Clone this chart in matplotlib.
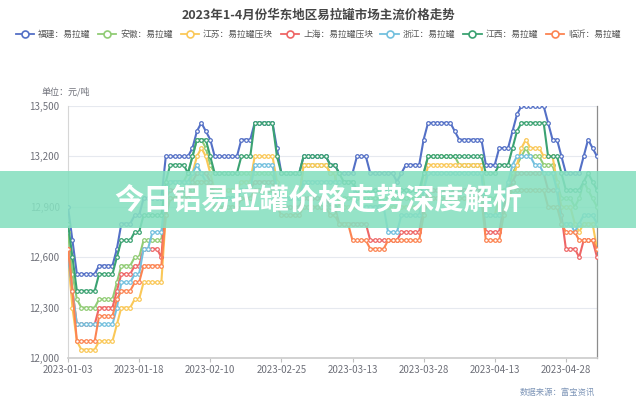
import matplotlib
matplotlib.use("Agg")
import matplotlib.pyplot as plt
from matplotlib.patches import Rectangle

plt.rcParams['font.family'] = ['Noto Sans CJK SC', 'DejaVu Sans']

title = "2023年1-4月份华东地区易拉罐市场主流价格走势"
series_names = ["福建：易拉罐", "安徽：易拉罐", "江苏：易拉罐压块", "上海：易拉罐压块",
                "浙江：易拉罐", "江西：易拉罐", "临沂：易拉罐"]
colors = ["#5470c6", "#91cc75", "#fac858", "#ee6666", "#73c0de", "#3ba272", "#fc8452"]
tick_labels = ["2023-01-03", "2023-01-18", "2023-02-10", "2023-02-25",
               "2023-03-13", "2023-03-28", "2023-04-13", "2023-04-28"]
tick_step = 16
y_ticks = [12000, 12300, 12600, 12900, 13200, 13500]

fujian = ([12900, 12700] + [12500]*5 + [12550]*4 + [12650] + [12800]*3 + [12850]*2 + [12950]*5
          + [13200]*6 + [13250, 13350, 13400, 13350, 13300] + [13200]*6 + [13300]*3 + [13400]*5
          + [13250] + [13100]*5 + [13200]*6 + [13150]*2 + [13100]*4 + [13200]*3 + [13100]*6
          + [13050, 13100] + [13150]*4 + [13300] + [13400]*6 + [13350] + [13300]*6 + [13150]*3
          + [13250]*3 + [13350, 13450] + [13500]*6 + [13400] + [13300]*2 + [13200] + [13100]*4
          + [13200, 13300, 13250, 13200])
anhui = ([12750, 12500, 12350] + [12300]*4 + [12350]*4 + [12450] + [12550]*3 + [12600]*2 + [12700]*5
         + [12950] + [13050]*4 + [13100, 13200] + [13300]*2 + [13250, 13150] + [13100]*14
         + [13000] + [12950]*5 + [13150]*6 + [13100]*2 + [12950]*19 + [13100] + [13200]*7
         + [13150]*6 + [12950]*3 + [13000]*3 + [13100, 13150, 13200, 13250] + [13200]*3
         + [13150]*3 + [13050] + [12950]*3 + [12900, 12950, 13050, 13000, 12950, 12900])
jiangsu = ([12600, 12300, 12100] + [12050]*4 + [12100]*4 + [12200] + [12300]*3 + [12350]*2 + [12450]*5
           + [12850] + [12950]*4 + [13000, 13100, 13200, 13250, 13200, 13100] + [13000]*6
           + [13050]*3 + [13200]*5 + [13050] + [12950]*5 + [13150]*6 + [13100]*2 + [12900]*19
           + [13000] + [13150]*13 + [12850]*3 + [12950]*3 + [13050, 13150, 13250, 13300]
           + [13250]*3 + [13200]*3 + [13050] + [12900]*3 + [12800, 12750] + [12800]*3 + [12650])
shanghai = ([12650, 12400] + [12200]*5 + [12300]*4 + [12400] + [12500]*3 + [12550]*2 + [12650]*4
            + [12600, 12950] + [13000]*4 + [13000, 13050] + [13100]*3 + [13050] + [12950]*6
            + [13000]*3 + [13050]*5 + [12950] + [12900]*5 + [12950]*6 + [12900]*2 + [12800]*7
            + [12700]*7 + [12750]*5 + [12900] + [13000]*13 + [12750]*4 + [12900, 13000, 13050]
            + [13100]*7 + [13000]*3 + [12850] + [12650]*3 + [12600] + [12700]*3 + [12600])
zhejiang = ([12600, 12400] + [12200]*9 + [12300] + [12450]*3 + [12500]*2 + [12650]*2 + [12750]*3
            + [13000] + [13050]*4 + [13050, 13100, 13150, 13100, 13050, 13000] + [12950]*6
            + [13000]*3 + [13150]*5 + [13000] + [12950]*5 + [13050]*12 + [12900]*7 + [12750]*3
            + [12850]*5 + [13000] + [13100]*13 + [12850]*4 + [12950, 13050, 13150] + [13200]*4
            + [13150]*2 + [13100]*3 + [13000] + [12800]*3 + [12750, 12800] + [12850]*3 + [12800])
jiangxi = ([12800, 12600] + [12400]*5 + [12500]*4 + [12600] + [12700]*3 + [12750]*2 + [12850]*5
           + [13050] + [13150]*4 + [13100, 13200] + [13300]*3 + [13200] + [13100]*6 + [13200]*3
           + [13400]*5 + [13200] + [13100]*5 + [13200]*6 + [13150]*2 + [13100] + [13050]*3
           + [13000]*15 + [13100] + [13200]*13 + [13100]*3 + [13150]*3 + [13250, 13350]
           + [13400]*6 + [13200]*3 + [13100] + [13000]*4 + [13050, 13100, 13050, 13000])
linyi = ([12650, 12400] + [12100]*5 + [12250]*4 + [12350] + [12400]*3 + [12450]*2 + [12550]*5
         + [12850] + [12950]*5 + [13000] + [13050]*3 + [13000] + [12900]*6 + [12950]*3
         + [13000]*5 + [12900] + [12850]*5 + [12900]*6 + [12850]*2 + [12800]*3 + [12700]*4
         + [12650]*4 + [12700]*8 + [12850] + [12950]*13 + [12700]*4 + [12850, 12950]
         + [13000]*8 + [12900]*3 + [12800] + [12750]*3 + [12700] + [12700]*3 + [12650])

data = [fujian, anhui, jiangsu, shanghai, zhejiang, jiangxi, linyi]
n = len(fujian)

W, H = 636, 400
fig = plt.figure(figsize=(W/100, H/100), dpi=100)
ax = fig.add_axes([68/W, 1-358/H, (597-68)/W, (358-106)/H])

for vals, c, name in zip(data, colors, series_names):
    ax.plot(range(len(vals)), vals, color=c, lw=1.5, marker='o', ms=2.6, mfc='white',
            mec=c, mew=0.9, label=name, zorder=3, solid_joinstyle='round')

ax.set_xlim(0, n-1)
ax.set_ylim(12000, 13500)
ax.set_yticks(y_ticks)
ax.set_yticklabels([f"{v:,}" for v in y_ticks])
ax.set_xticks([i*tick_step for i in range(len(tick_labels))])
ax.set_xticklabels(tick_labels)
ax.tick_params(axis='y', length=0, labelsize=7, labelcolor='#6e7079', pad=6)
ax.tick_params(axis='x', length=3, color='#c0c0c0', labelsize=7, labelcolor='#6e7079', pad=2)
ax.grid(axis='y', color='#e6e9ef', lw=0.8)
ax.set_axisbelow(True)
ax.spines['top'].set_visible(False)
ax.spines['left'].set_color('#d6d6d6')
ax.spines['bottom'].set_color('#cfcfcf')
ax.spines['bottom'].set_linewidth(1.3)
ax.spines['right'].set_color('#8c8c8c')
ax.spines['right'].set_linewidth(0.9)

fig.text(0.5, 1-15/H, title, ha='center', va='center', fontsize=9, fontweight='bold', color='#464646')
fig.text(42/W, 1-92/H, "单位：元/吨", ha='left', va='center', fontsize=6.5, color='#6e7079')
fig.text(595/W, 1-392/H, "数据来源：富宝资讯", ha='right', va='center', fontsize=6, color='#7f96b8')

# legend: centered row, icon + text, constant gaps (pixel layout)
icon_w, icon_gap, item_gap = 18.5, 4.0, 7.5
leg_fs = 6.3
renderer = fig.canvas.get_renderer()
texts = []
widths = []
for name in series_names:
    t = fig.text(0, 0, name, fontsize=leg_fs, color='#555555', ha='left', va='center')
    widths.append(t.get_window_extent(renderer).width)
    texts.append(t)
total = sum(icon_w + icon_gap + w for w in widths) + item_gap * (len(widths) - 1)
x0 = W / 2 - total / 2
ly = 1 - 34 / H
for t, w, c in zip(texts, widths, colors):
    fig.add_artist(plt.Line2D([x0 / W, (x0 + icon_w) / W], [ly, ly], color=c, lw=1.3,
                              transform=fig.transFigure))
    fig.add_artist(plt.Line2D([(x0 + icon_w / 2) / W], [ly], color=c, marker='o', ms=5,
                              mfc='white', mew=1.2, transform=fig.transFigure))
    t.set_position(((x0 + icon_w + icon_gap) / W, ly))
    x0 += icon_w + icon_gap + w + item_gap

# overlay banner
fig.add_artist(Rectangle((0, 1-228/H), 1, 57/H, transform=fig.transFigure,
                         facecolor='#86e0c0', alpha=0.88, edgecolor='none', zorder=10))
fig.text(0.5, 1-200/H, "今日铝易拉罐价格走势深度解析", ha='center', va='center', fontsize=21,
         fontweight='black', color='white', zorder=11)

fig.savefig("out.png", dpi=100)
